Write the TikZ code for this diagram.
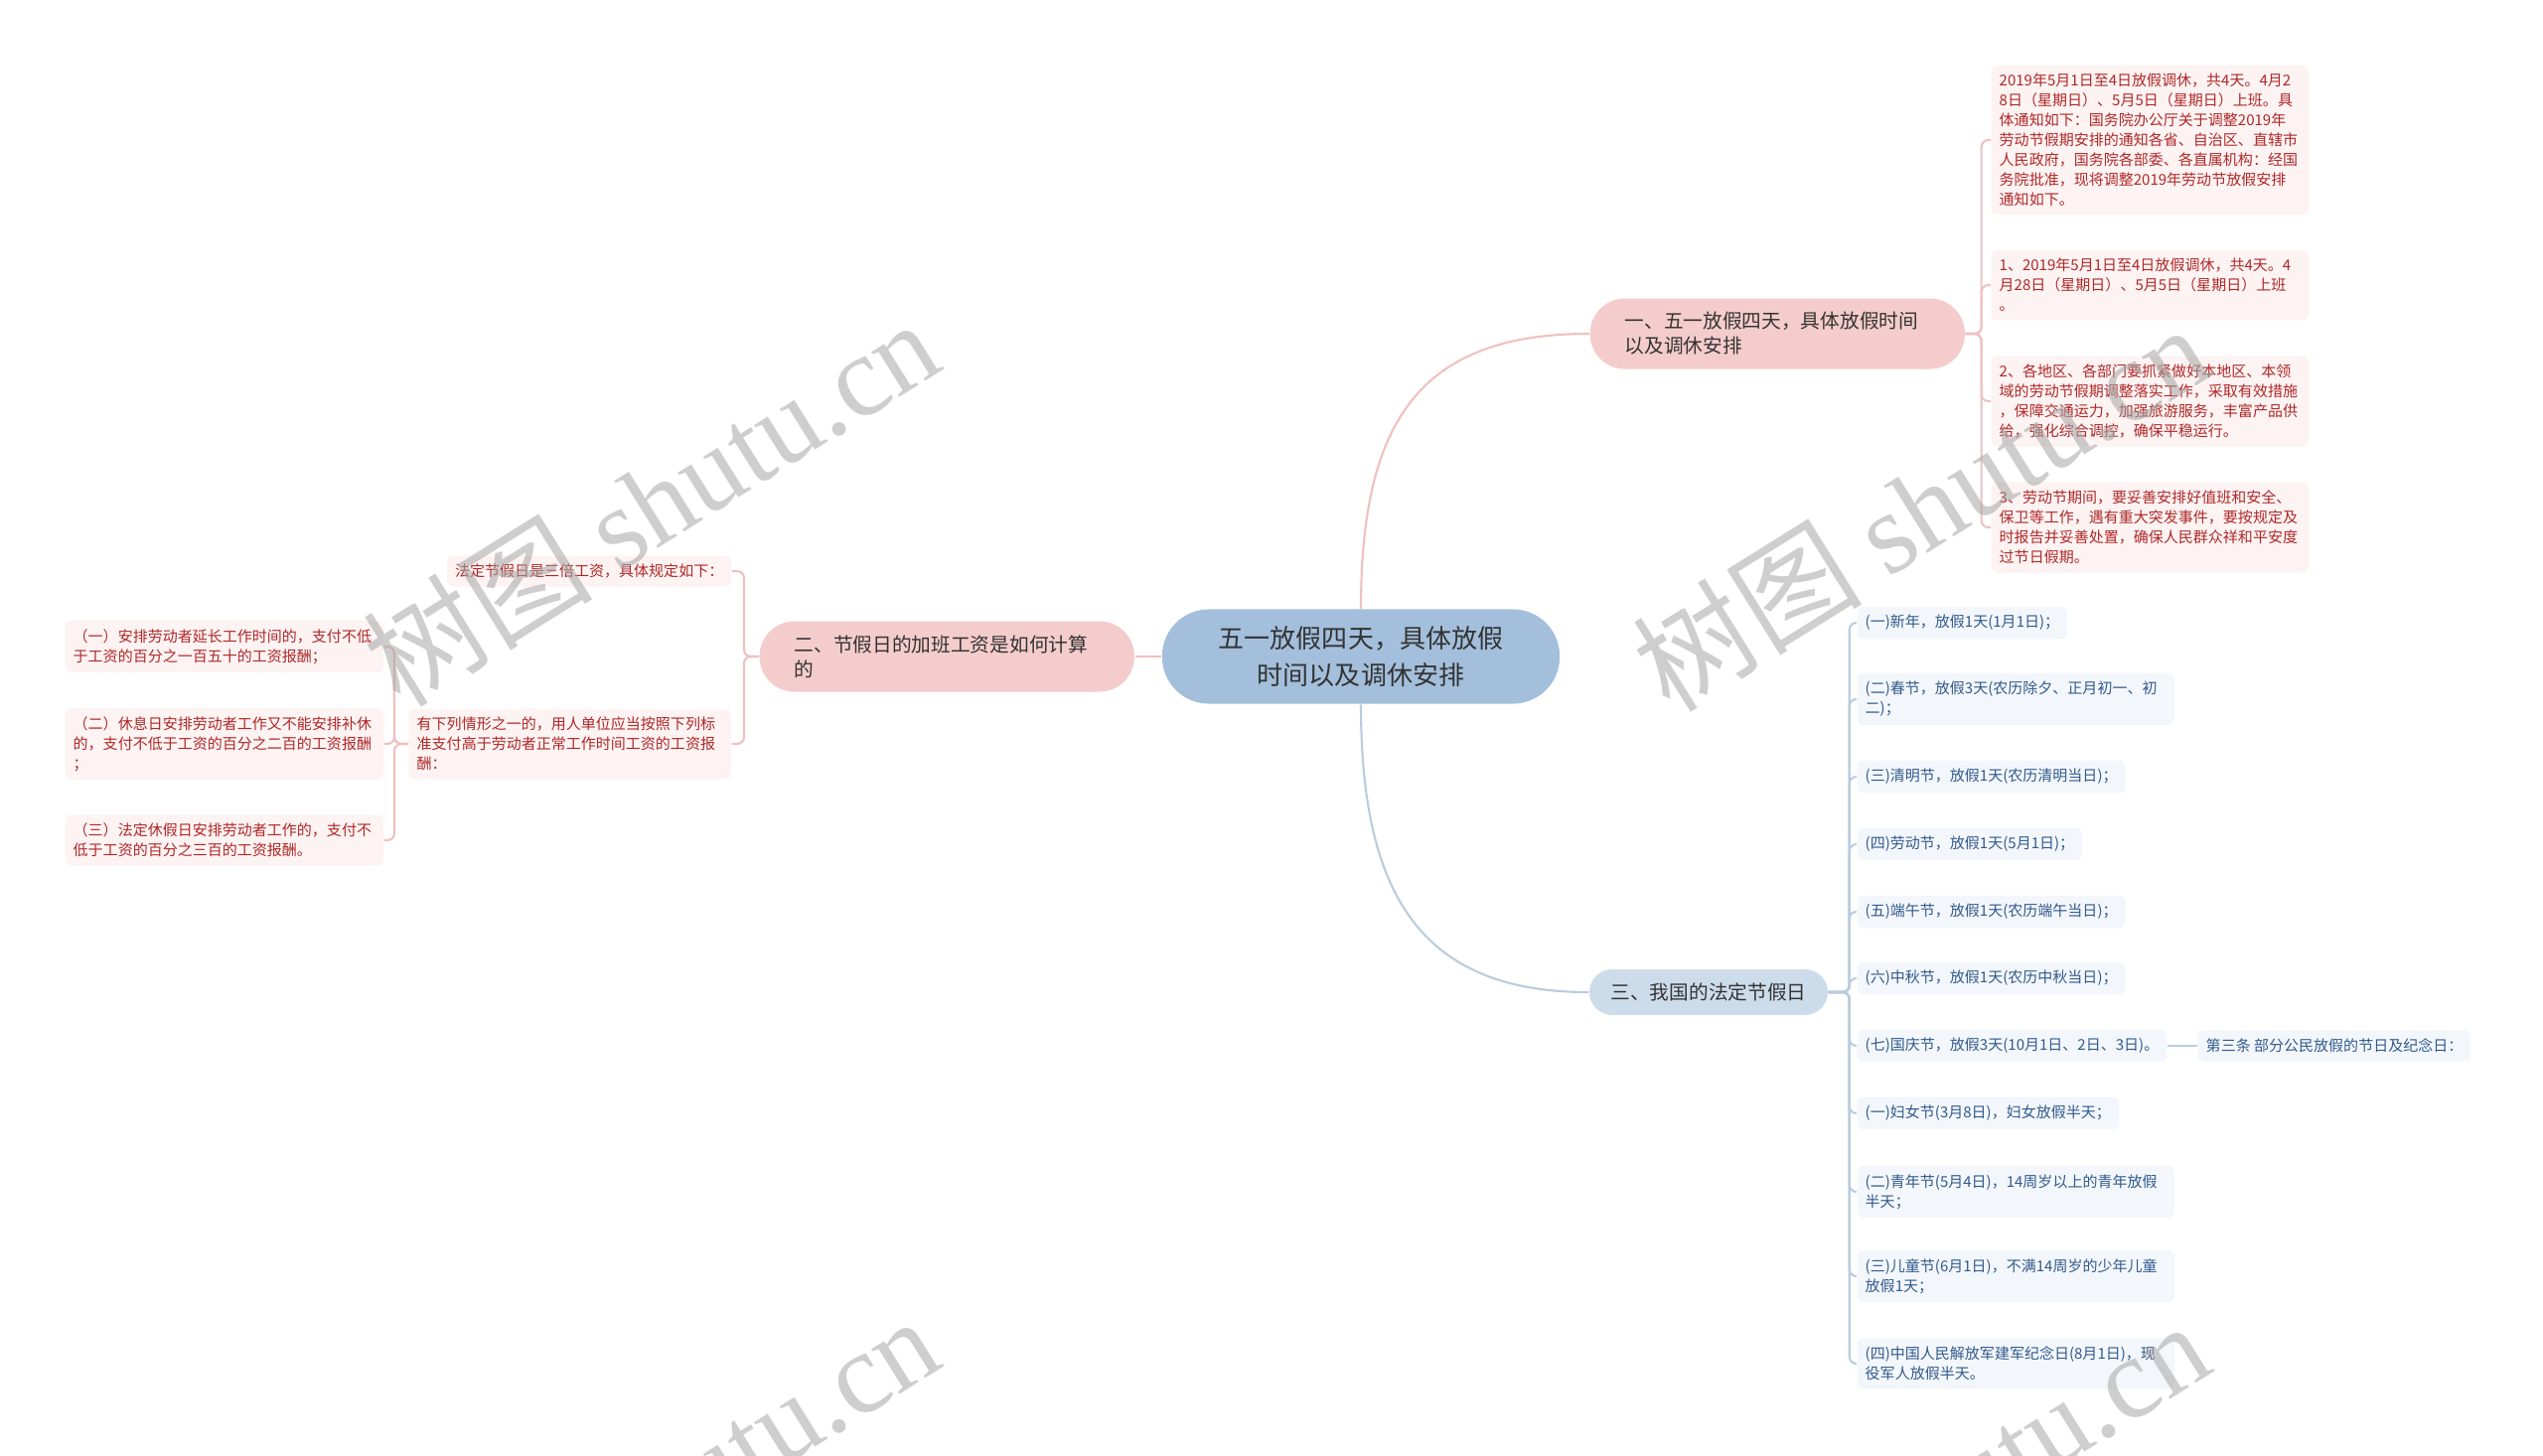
\documentclass[tikz,border=0pt]{standalone}
\usepackage{fontspec}
\setmainfont{Noto Sans CJK SC}
\newfontfamily\markfont{Liberation Serif}
\usetikzlibrary{positioning}
\definecolor{CoreBlue}{RGB}{163,191,220}
\definecolor{TopicPink}{RGB}{245,204,204}
\definecolor{TopicBlue}{RGB}{205,220,235}
\definecolor{LeafPink}{RGB}{253,243,243}
\definecolor{LeafBlue}{RGB}{243,247,252}
\definecolor{LeafRed}{RGB}{176,40,40}
\definecolor{LeafNavy}{RGB}{50,90,140}
\definecolor{LinePink}{RGB}{240,192,192}
\definecolor{LineBlue}{RGB}{186,204,222}
\definecolor{InkGray}{RGB}{51,51,51}
\tikzset{
  core/.style={fill=CoreBlue, rounded corners=0.47cm, minimum width=4cm, minimum height=0.95cm,
    inner sep=0pt, align=center, text=InkGray, font=\fontsize{7.4}{10.5}\selectfont},
  pinktopic/.style={fill=TopicPink, rounded corners=0.35cm, minimum height=0.71cm, inner xsep=0.35cm,
    inner ysep=0pt, text width=3.07cm, align=left, text=InkGray, font=\fontsize{5.6}{7.1}\selectfont},
  bluetopic/.style={fill=TopicBlue, rounded corners=0.23cm, minimum width=2.4cm, minimum height=0.46cm,
    inner sep=0pt, text=InkGray, font=\fontsize{5.6}{7.1}\selectfont},
  leaf/.style={rounded corners=0.06cm, inner xsep=0.08cm, inner ysep=0.085cm, align=left,
    font=\fontsize{4.27}{5.69}\selectfont},
  redleaf/.style={leaf, fill=LeafPink, text=LeafRed},
  blueleaf/.style={leaf, fill=LeafBlue, text=LeafNavy},
  pinkline/.style={draw=LinePink, line width=0.6pt},
  blueline/.style={draw=LineBlue, line width=0.6pt},
  bracket/.style={rounded corners=0.07cm},
  watermark/.style={text=black!35, text opacity=0.55, rotate=32, inner sep=0pt,
    font=\fontsize{33}{33}\selectfont},
}
\begin{document}
\begin{tikzpicture}[x=0.01cm, y=-0.01cm]
  \useasboundingbox (0,0) rectangle (2560,1465);

  \node[core] (core) at (1370,661) {五一放假四天，具体放假\\时间以及调休安排};
  \node[pinktopic, anchor=west] (t1) at (1600,336) {一、五一放假四天，具体放假时间\\以及调休安排};
  \node[pinktopic, anchor=west] (t2) at (764,661) {二、节假日的加班工资是如何计算\\的};
  \node[bluetopic] (t3) at (1720,999) {三、我国的法定节假日};

  % branch one
  \node[redleaf, text width=3.03cm, anchor=west] (r1) at (2004,141)
    {2019年5月1日至4日放假调休，共4天。4月2\\8日（星期日）、5月5日（星期日）上班。具\\体通知如下：国务院办公厅关于调整2019年\\劳动节假期安排的通知各省、自治区、直辖市\\人民政府，国务院各部委、各直属机构：经国\\务院批准，现将调整2019年劳动节放假安排\\通知如下。};
  \node[redleaf, text width=3.03cm, anchor=west] (r2) at (2004,287)
    {1、2019年5月1日至4日放假调休，共4天。4\\月28日（星期日）、5月5日（星期日）上班\\。};
  \node[redleaf, text width=3.03cm, anchor=west] (r3) at (2004,404)
    {2、各地区、各部门要抓紧做好本地区、本领\\域的劳动节假期调整落实工作，采取有效措施\\，保障交通运力，加强旅游服务，丰富产品供\\给，强化综合调控，确保平稳运行。};
  \node[redleaf, text width=3.03cm, anchor=west] (r4) at (2004,531)
    {3、劳动节期间，要妥善安排好值班和安全、\\保卫等工作，遇有重大突发事件，要按规定及\\时报告并妥善处置，确保人民群众祥和平安度\\过节日假期。};

  % branch two
  \node[redleaf, anchor=east] (l1) at (737,575) {法定节假日是三倍工资，具体规定如下：};
  \node[redleaf, text width=3.08cm, anchor=west] (l2) at (411,749)
    {有下列情形之一的，用人单位应当按照下列标\\准支付高于劳动者正常工作时间工资的工资报\\酬：};
  \node[redleaf, text width=3.04cm, anchor=west] (la) at (65,651)
    {（一）安排劳动者延长工作时间的，支付不低\\于工资的百分之一百五十的工资报酬；};
  \node[redleaf, text width=3.04cm, anchor=west] (lb) at (65,749)
    {（二）休息日安排劳动者工作又不能安排补休\\的，支付不低于工资的百分之二百的工资报酬\\；};
  \node[redleaf, text width=3.04cm, anchor=west] (lc) at (65,846)
    {（三）法定休假日安排劳动者工作的，支付不\\低于工资的百分之三百的工资报酬。};

  % branch three
  \node[blueleaf, anchor=west] (b1) at (1869,627) {(一)新年，放假1天(1月1日)；};
  \node[blueleaf, text width=3.03cm, anchor=west] (b2) at (1869,704) {(二)春节，放假3天(农历除夕、正月初一、初\\二)；};
  \node[blueleaf, anchor=west] (b3) at (1869,782) {(三)清明节，放假1天(农历清明当日)；};
  \node[blueleaf, anchor=west] (b4) at (1869,850) {(四)劳动节，放假1天(5月1日)；};
  \node[blueleaf, anchor=west] (b5) at (1869,918) {(五)端午节，放假1天(农历端午当日)；};
  \node[blueleaf, anchor=west] (b6) at (1869,985) {(六)中秋节，放假1天(农历中秋当日)；};
  \node[blueleaf, anchor=west] (b7) at (1869,1053) {(七)国庆节，放假3天(10月1日、2日、3日)。};
  \node[blueleaf, anchor=west] (b7x) at (2212,1053) {第三条 部分公民放假的节日及纪念日：};
  \node[blueleaf, anchor=west] (b8) at (1869,1121) {(一)妇女节(3月8日)，妇女放假半天；};
  \node[blueleaf, text width=3.03cm, anchor=west] (b9) at (1869,1200) {(二)青年节(5月4日)，14周岁以上的青年放假\\半天；};
  \node[blueleaf, text width=3.03cm, anchor=west] (b10) at (1869,1285) {(三)儿童节(6月1日)，不满14周岁的少年儿童\\放假1天；};
  \node[blueleaf, text width=3.03cm, anchor=west] (b11) at (1869,1373) {(四)中国人民解放军建军纪念日(8月1日)，现\\役军人放假半天。};

  \draw[pinkline] (core.west) -- (t2.east);
  \draw[pinkline] (core.north) .. controls +(0,-190) and +(-170,0) .. (t1.west);
  \draw[blueline] (core.south) .. controls +(0,190) and +(-170,0) .. (t3.west);
  \foreach \leaf in {r1,r2,r3,r4}
    \draw[pinkline, bracket] (t1.east) -- ++(16,0) |- (\leaf.west);
  \foreach \leaf in {l1,l2}
    \draw[pinkline, bracket] (t2.west) -- ++(-15,0) |- (\leaf.east);
  \foreach \leaf in {la,lb,lc}
    \draw[pinkline, bracket] (l2.west) -- ++(-14,0) |- (\leaf.east);
  \foreach \leaf in {b1,b2,b3,b4,b5,b6,b7,b8,b9,b10,b11}
    \draw[blueline, bracket] (t3.east) -- ++(21,0) |- (\leaf.west);
  \draw[blueline] (b7.east) -- (b7x.west);

  \begin{scope}
    \clip (0,0) rectangle (2560,1465);
    \foreach \mx/\my [count=\k] in {655/505, 1933/510, 655/1509, 1933/1514}
      \node[watermark] (mark\k) at (\mx,\my) {树图 {\markfont shutu.cn}};
  \end{scope}
\end{tikzpicture}
\end{document}
